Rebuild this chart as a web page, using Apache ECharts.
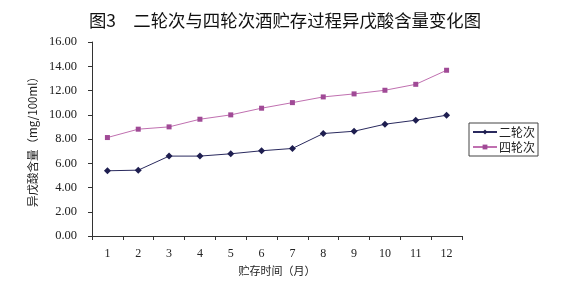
<!DOCTYPE html>
<html><head><meta charset="utf-8">
<script src="https://cdn.jsdelivr.net/npm/echarts@6/dist/echarts.min.js"></script>
<style>html,body{margin:0;padding:0;background:#fff}#c{width:586px;height:284px}</style>
</head><body><div id="c"></div>
<script>
const categories = ['1','2','3','4','5','6','7','8','9','10','11','12'];
const seriesNames = ['二轮次','四轮次'];
const round2 = [5.38, 5.43, 6.59, 6.59, 6.78, 7.03, 7.22, 8.45, 8.64, 9.22, 9.55, 9.96];
const round4 = [8.12, 8.81, 9.00, 9.63, 9.99, 10.54, 11.00, 11.47, 11.72, 12.02, 12.51, 13.67];
const yTicks = [0, 2, 4, 6, 8, 10, 12, 14, 16];
const titleText = '图3　二轮次与四轮次酒贮存过程异戊酸含量变化图';
const yName = '异戊酸含量（mg/100ml）';
const xName = '贮存时间（月）';

const cjk = '"Noto Sans CJK SC", sans-serif';
const serif = '"Liberation Serif", "DejaVu Serif", serif';
const chart = echarts.init(document.getElementById('c'), null, {renderer: 'canvas'});
chart.setOption({
  animation: false,
  backgroundColor: '#fff',
  title: {
    text: titleText, left: 280, top: 7, textAlign: 'center',
    textStyle: {fontFamily: cjk, fontSize: 17.4, fontWeight: 'normal', color: '#111'}
  },
  legend: {
    orient: 'vertical', left: 469, top: 123,
    data: seriesNames,
    itemWidth: 24, itemHeight: 6, itemGap: 3,
    padding: [3, 3, 3, 3],
    borderColor: '#444', borderWidth: 1,
    textStyle: {fontFamily: cjk, fontSize: 12, color: '#222', padding: [0,0,0,-3]}
  },
  grid: {left: 92, top: 42, right: 124, bottom: 48, containLabel: false},
  xAxis: {
    type: 'category', data: categories, boundaryGap: true,
    name: xName, nameLocation: 'middle', nameGap: 22,
    nameTextStyle: {fontFamily: cjk, fontSize: 11, color: '#222'},
    axisLine: {lineStyle: {color: '#333', width: 1}},
    axisTick: {show: true, inside: false, length: 4, alignWithLabel: false, lineStyle: {color: '#333'}},
    axisLabel: {fontFamily: serif, fontSize: 12, color: '#222', margin: 12}
  },
  yAxis: {
    type: 'value', min: yTicks[0], max: yTicks[yTicks.length-1], interval: 2,
    name: yName, nameLocation: 'middle', nameGap: 52, nameRotate: 90,
    nameTextStyle: {fontFamily: cjk, fontSize: 11.5, color: '#222'},
    axisLine: {show: true, lineStyle: {color: '#333', width: 1}},
    axisTick: {show: true, length: 4, lineStyle: {color: '#333'}},
    splitLine: {show: false},
    axisLabel: {fontFamily: serif, fontSize: 12.5, color: '#222', margin: 15,
      formatter: v => v.toFixed(2)}
  },
  series: [
    {name: seriesNames[0], type: 'line', data: round2,
     symbol: 'diamond', symbolSize: 7,
     lineStyle: {color: '#2a2a5e', width: 1},
     itemStyle: {color: '#1e1e50'}},
    {name: seriesNames[1], type: 'line', data: round4,
     symbol: 'rect', symbolSize: 5,
     lineStyle: {color: '#c070b0', width: 1},
     itemStyle: {color: '#a04a96'}}
  ]
});
</script></body></html>
